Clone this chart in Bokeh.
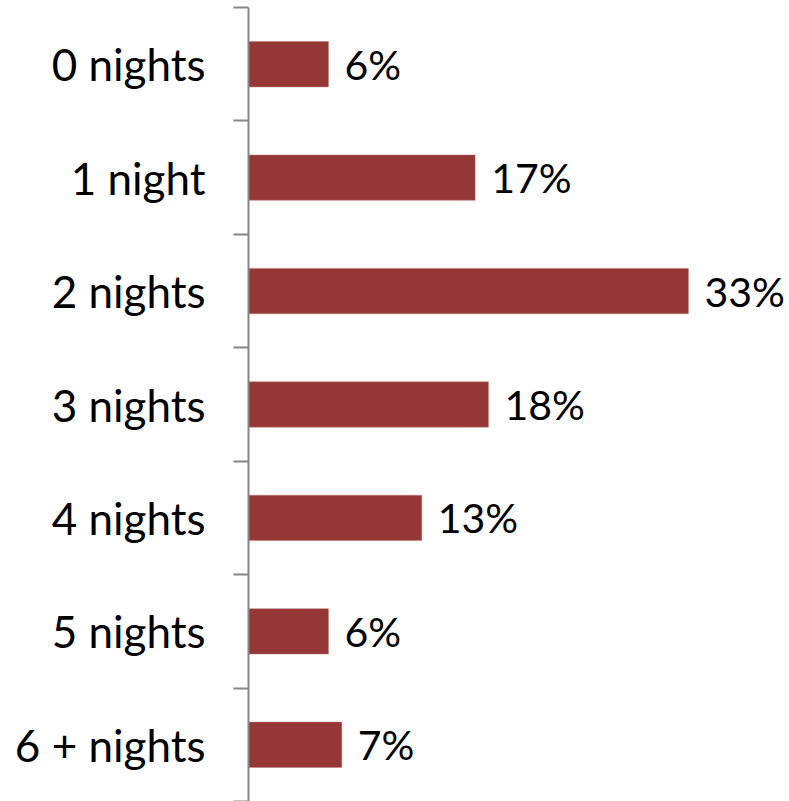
from bokeh.plotting import figure
from bokeh.models import ColumnDataSource, Range1d, LinearAxis, FixedTicker
from bokeh.core.properties import value
from bokeh.embed import file_html
from bokeh.resources import INLINE

categories = ["0 nights", "1 night", "2 nights", "3 nights", "4 nights", "5 nights", "6 + nights"]
percentages = [6, 17, 33, 18, 13, 6, 7]
pct_labels = ["6%", "17%", "33%", "18%", "13%", "6%", "7%"]

n = len(categories)
ypos = [n - i - 0.5 for i in range(n)]

src = ColumnDataSource(dict(y=ypos, v=percentages, lab=pct_labels, cat=categories))

FONT = "Lato"

p = figure(width=789, height=801, output_backend="svg", toolbar_location=None,
           x_range=Range1d(0, 40.58), y_range=Range1d(0, n),
           x_axis_type=None, y_axis_type=None,
           min_border_left=248, min_border_right=0, min_border_top=7, min_border_bottom=0)
p.outline_line_color = None
p.grid.visible = False
p.background_fill_color = "white"
p.border_fill_color = "white"

p.hbar(y="y", right="v", left=0, height=0.4, source=src,
       fill_color="#953735", line_color="#c07a78", line_width=0.5)

p.text(x="v", y="y", text="lab", source=src, x_offset=16,
       text_baseline="middle", text_align="left",
       text_font=value(FONT), text_font_size="41px", text_color="black")

ax = LinearAxis(ticker=FixedTicker(ticks=ypos, minor_ticks=list(range(n + 1))))
ax.major_label_overrides = {y: c for y, c in zip(ypos, categories)}
ax.major_label_text_font = FONT
ax.major_label_text_font_size = "44px"
ax.major_label_text_color = "black"
ax.major_label_standoff = 28
ax.major_tick_in = 0
ax.major_tick_out = 0
ax.minor_tick_in = 0
ax.minor_tick_out = 15
ax.minor_tick_line_color = "#868686"
ax.minor_tick_line_width = 2
ax.axis_line_color = "#868686"
ax.axis_line_width = 2
p.add_layout(ax, "left")

open("out.html", "w").write(file_html(p, INLINE))
